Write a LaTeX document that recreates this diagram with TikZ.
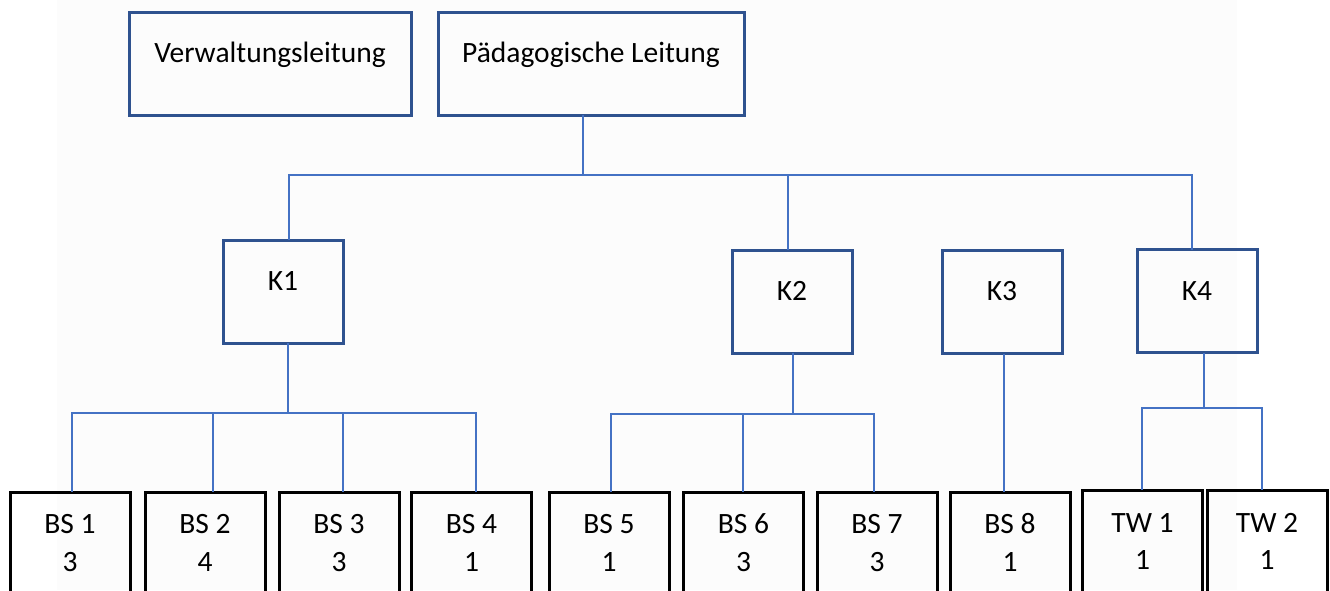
\documentclass[tikz,border=0pt]{standalone}
\usepackage{fontspec}
\setmainfont{Carlito}
\definecolor{bgc}{RGB}{252,252,252}
\definecolor{kblue}{RGB}{47,82,143}
\definecolor{conncol}{RGB}{68,114,196}
\tikzset{
  topbox/.style={draw=kblue, line width=3pt, minimum height=103pt, inner sep=0pt, outer sep=0pt},
  kbox/.style={draw=kblue, line width=3pt, minimum width=120pt, minimum height=103pt, inner sep=0pt, outer sep=0pt},
  bsbox/.style={draw=black, line width=3pt, minimum width=120pt, minimum height=140pt, inner sep=0pt, outer sep=0pt, anchor=north},
  txt/.style={font=\fontsize{29.5}{35}\selectfont, anchor=base, inner sep=0pt},
  conn/.style={draw=conncol, line width=1.4pt}
}
\begin{document}
\begin{tikzpicture}[x=1pt,y=-1pt]
\useasboundingbox (0,0) rectangle (1330,590);
\begin{scope}
\clip (0,0) rectangle (1330,590);
\fill[bgc] (57,0) rectangle (1237,590);

% top boxes
\node[topbox, minimum width=282pt] (Verw) at (270,63.5) {};
\node[txt] (tVerw) at (270,62) {Verwaltungsleitung};
\node[topbox, minimum width=306pt] (Paed) at (591,63.5) {};
\node[txt] (tPaed) at (591,62) {Pädagogische Leitung};

% K boxes
\node[kbox] (K1) at (283,291.5) {};
\node[txt] (tK1) at (283,290) {K1};
\node[kbox] (K2) at (792,301.5) {};
\node[txt] (tK2) at (792,300) {K2};
\node[kbox] (K3) at (1002,302) {};
\node[txt] (tK3) at (1002,300) {K3};
\node[kbox] (K4) at (1197,301) {};
\node[txt] (tK4) at (1197,300) {K4};

% bottom boxes
\foreach \n/\x/\t/\v in {BS1/70/BS 1/3, BS2/205/BS 2/4, BS3/339/BS 3/3, BS4/471.5/BS 4/1, BS5/609/BS 5/1, BS6/743.5/BS 6/3, BS7/877/BS 7/3, BS8/1010/BS 8/1}{
  \node[bsbox] (\n) at (\x,492) {};
  \node[txt] (t\n) at (\x,533) {\t};
  \node[txt] (v\n) at (\x,571) {\v};
}
\node[bsbox] (TW1) at (1142.5,490) {};
\node[txt] (tTW1) at (1142.5,532) {TW 1};
\node[txt] (vTW1) at (1142.5,569) {1};
\node[bsbox] (TW2) at (1267,490) {};
\node[txt] (tTW2) at (1267,532) {TW 2};
\node[txt] (vTW2) at (1267,569) {1};

% connectors: top level
\coordinate (busA) at (583,175);
\coordinate (a1) at (289,175);
\coordinate (a2) at (788,175);
\coordinate (a3) at (1192,175);
\draw[conn] (Paed.south -| busA) -- (busA);
\draw[conn] (K1.north -| a1) -- (a1) -- (a3) -- (K4.north -| a3);
\draw[conn] (a2) -- (K2.north -| a2);

% K1 group
\coordinate (busB) at (288,413);
\coordinate (b1) at (72,413);
\coordinate (b2) at (213,413);
\coordinate (b3) at (343,413);
\coordinate (b4) at (476,413);
\draw[conn] (K1.south -| busB) -- (busB);
\draw[conn] (BS1.north -| b1) -- (b1) -- (b4) -- (BS4.north -| b4);
\draw[conn] (b2) -- (BS2.north -| b2);
\draw[conn] (b3) -- (BS3.north -| b3);

% K2 group
\coordinate (busC) at (793,414);
\coordinate (c1) at (611,414);
\coordinate (c2) at (743,414);
\coordinate (c3) at (874,414);
\draw[conn] (K2.south -| busC) -- (busC);
\draw[conn] (BS5.north -| c1) -- (c1) -- (c3) -- (BS7.north -| c3);
\draw[conn] (c2) -- (BS6.north -| c2);

% K3
\coordinate (k3x) at (1004,353);
\draw[conn] (K3.south -| k3x) -- (BS8.north -| k3x);

% K4 group
\coordinate (busD) at (1204,408);
\coordinate (e1) at (1142,408);
\coordinate (e2) at (1262,408);
\draw[conn] (K4.south -| busD) -- (busD);
\draw[conn] (TW1.north -| e1) -- (e1) -- (e2) -- (TW2.north -| e2);
\end{scope}
\end{tikzpicture}
\end{document}
